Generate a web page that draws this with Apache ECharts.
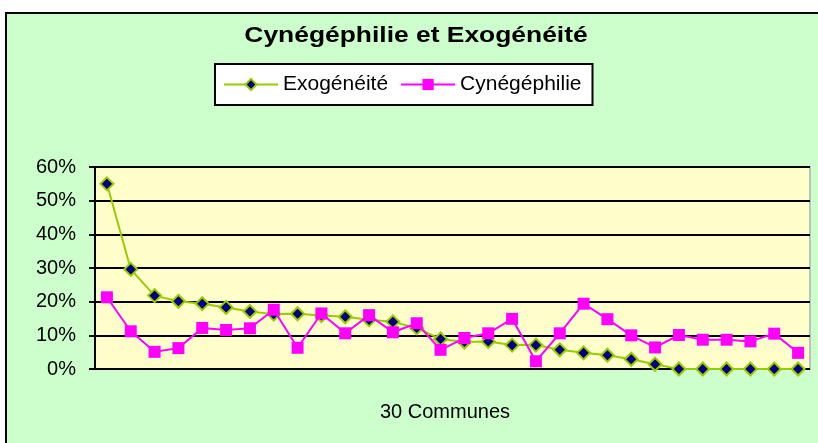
<!DOCTYPE html>
<html>
<head>
<meta charset="utf-8">
<script src="https://cdn.jsdelivr.net/npm/echarts@6/dist/echarts.min.js"></script>
<style>
  html, body { margin: 0; padding: 0; background: #ffffff; }
  #chart { width: 818px; height: 443px; }
</style>
</head>
<body>
<div id="chart"></div>
<script>
// 30 communes, valeurs en %
const communes = Array.from({ length: 30 }, (_, i) => "C" + (i + 1));
const exogeneite = [55.0, 29.6, 21.8, 20.1, 19.4, 18.3, 17.1, 16.3, 16.4, 15.9,
  15.5, 14.6, 14.0, 12.2, 8.9, 8.0, 8.2, 7.1, 7.1, 5.7,
  4.8, 4.1, 2.9, 1.4, 0, 0, 0, 0, 0, 0];
const cynegephilie = [21.3, 11.2, 5.1, 6.2, 12.2, 11.6, 12.1, 17.6, 6.3, 16.5,
  10.6, 16.0, 10.9, 13.6, 5.7, 9.2, 10.6, 14.9, 2.3, 10.6,
  19.4, 14.8, 10.0, 6.4, 10.1, 8.7, 8.7, 8.2, 10.5, 4.8];
const yTicks = [0, 10, 20, 30, 40, 50, 60];

const sans = "'Liberation Sans', Arial, sans-serif";

let myChart = echarts.init(document.getElementById("chart"));
myChart.setOption({
  animation: false,
  backgroundColor: "#ffffff",
  graphic: [
    {
      type: "rect",
      z: -10,
      shape: { x: 6, y: 13, width: 900, height: 500 },
      style: { fill: "#CCFFCC", stroke: "#000000", lineWidth: 2 }
    },
    {
      // titre (espacement large simulé)
      type: "text",
      x: 416,
      y: 36,
      scaleX: 1.2,
      style: {
        text: "Cynégéphilie et Exogénéité",
        font: "bold 22px 'Liberation Sans', Arial, sans-serif",
        fill: "#000",
        textAlign: "center",
        textVerticalAlign: "middle"
      }
    }
  ],
  legend: {
    orient: "horizontal",
    left: 215,
    top: 64,
    padding: [10, 11, 10, 8],
    backgroundColor: "#ffffff",
    borderColor: "#000000",
    borderWidth: 2,
    borderRadius: 0,
    itemWidth: 54,
    itemHeight: 14,
    itemGap: 12,
    textStyle: { fontFamily: sans, fontSize: 21, color: "#000" },
    data: ["Exogénéité", "Cynégéphilie"]
  },
  grid: {
    left: 95,
    right: 8,
    top: 167,
    bottom: 74,
    show: true,
    backgroundColor: "#FFFFCC",
    borderColor: "#C0C0C0",
    borderWidth: 2
  },
  xAxis: {
    type: "category",
    boundaryGap: true,
    data: communes,
    name: "30 Communes",
    nameLocation: "middle",
    nameGap: 33,
    nameTextStyle: { fontFamily: sans, fontSize: 20, color: "#000", padding: [0, 15, 0, 0] },
    axisLine: { show: false },
    axisTick: { show: false },
    axisLabel: { show: false }
  },
  yAxis: {
    type: "value",
    min: 0,
    max: 60,
    interval: 10,
    axisLine: { show: true, lineStyle: { color: "#000", width: 2 } },
    axisTick: { show: true, length: 6, lineStyle: { color: "#000", width: 2 } },
    axisLabel: {
      fontFamily: sans,
      fontSize: 20,
      color: "#000",
      margin: 19,
      formatter: function (v) { return yTicks.indexOf(v) >= 0 ? v + "%" : ""; }
    },
    splitLine: { show: true, lineStyle: { color: "#000", width: 2 } }
  },
  series: [
    {
      name: "Exogénéité",
      type: "line",
      data: exogeneite,
      symbol: "diamond",
      symbolSize: 13,
      lineStyle: { color: "#99CC00", width: 2 },
      itemStyle: { color: "#000080", borderColor: "#99CC00", borderWidth: 2 },
      z: 2
    },
    {
      name: "Cynégéphilie",
      type: "line",
      data: cynegephilie,
      symbol: "rect",
      symbolSize: 12,
      lineStyle: { color: "#FF00FF", width: 2 },
      itemStyle: { color: "#FF00FF", borderColor: "#FF00FF", borderWidth: 0 },
      z: 3
    }
  ]
});
</script>
</body>
</html>
